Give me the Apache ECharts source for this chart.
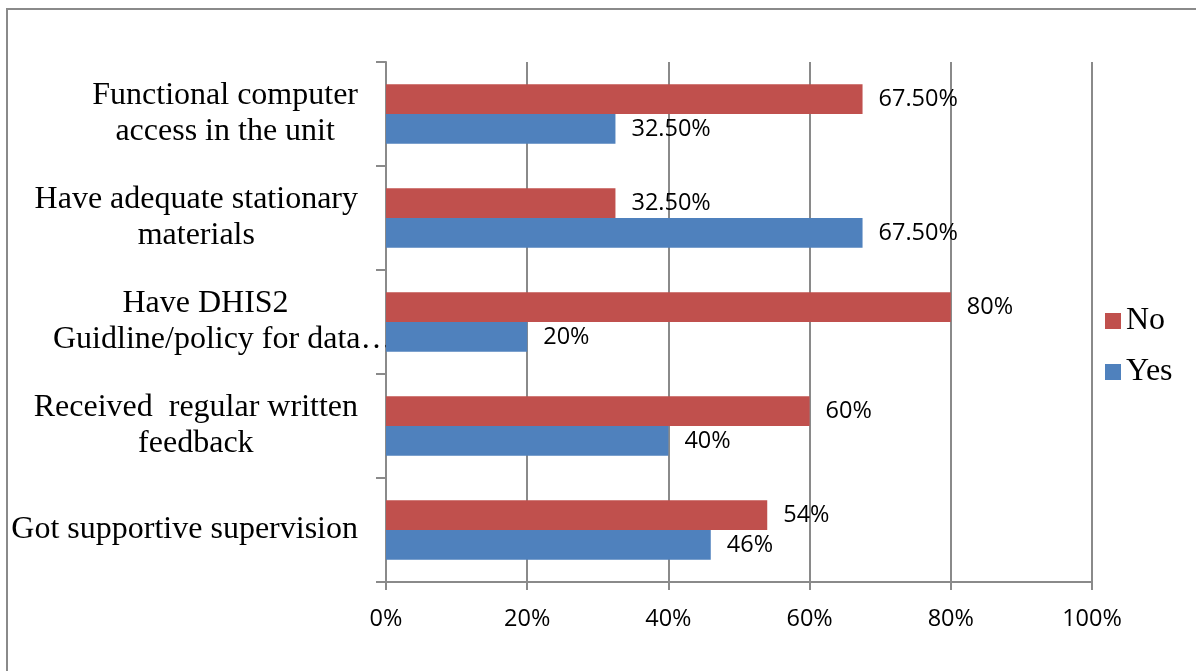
<!DOCTYPE html>
<html>
<head>
<meta charset="utf-8">
<script src="https://cdn.jsdelivr.net/npm/echarts@6/dist/echarts.min.js"></script>
<style>
html,body{margin:0;padding:0;background:#fff;}
#chart{width:1196px;height:671px;}
</style>
</head>
<body>
<div id="chart"></div>
<script>
const categories = [
  'Got supportive supervision',
  'Received  regular written\nfeedback',
  'Have DHIS2\nGuidline/policy for data…',
  'Have adequate stationary\nmaterials',
  'Functional computer\naccess in the unit'
];
const noValues = [54, 60, 80, 32.5, 67.5];
const yesValues = [46, 40, 20, 67.5, 32.5];
const xTicks = [0, 20, 40, 60, 80, 100];

const gray = '#8a8a8a';
const serif = '"Liberation Serif", "Times New Roman", serif';
const sans = '"Open Sans", "Liberation Sans", sans-serif';
function fmt(v) { return (v % 1 === 0 ? v : v.toFixed(2)) + '%'; }

const chart = echarts.init(document.getElementById('chart'));
const catText = { fontFamily: serif, fontSize: 32, lineHeight: 36, color: '#000' };
chart.setOption({
  animation: false,
  backgroundColor: '#fff',
  graphic: [{
    type: 'polyline',
    shape: { points: [[7, 671], [7, 9], [1196, 9]] },
    style: { stroke: gray, lineWidth: 2, fill: null }
  }],
  legend: {
    orient: 'vertical',
    left: 1100,
    top: 300,
    data: ['No', 'Yes'],
    icon: 'rect',
    itemWidth: 16,
    itemHeight: 16,
    itemGap: 19,
    textStyle: { fontFamily: serif, fontSize: 32, lineHeight: 32, color: '#000' }
  },
  grid: { left: 386, right: 104, top: 62, bottom: 89, containLabel: false },
  xAxis: {
    type: 'value',
    min: xTicks[0],
    max: xTicks[xTicks.length - 1],
    interval: 20,
    axisLine: { show: true, lineStyle: { color: gray, width: 2 } },
    axisTick: { show: true, length: 8, lineStyle: { color: gray, width: 2 } },
    splitLine: { show: true, lineStyle: { color: gray, width: 2 } },
    axisLabel: { formatter: '{value}%', fontFamily: sans, fontSize: 23.5, color: '#000', margin: 25 }
  },
  yAxis: {
    type: 'category',
    data: categories,
    axisLine: { show: true, lineStyle: { color: gray, width: 2 } },
    axisTick: { show: true, length: 10, lineStyle: { color: gray, width: 2 } },
    axisLabel: {
      margin: 28,
      align: 'right',
      formatter: function (v) {
        return v.split('\n').map(function (l) {
          return (l.slice(-1) === '…' ? '{e|' : '{c|') + l + '}';
        }).join('\n');
      },
      rich: {
        c: Object.assign({ align: 'center' }, catText),
        e: Object.assign({ align: 'left', width: 305 }, catText)
      }
    }
  },
  series: [
    {
      name: 'No', type: 'bar', data: noValues,
      itemStyle: { color: '#C0504D' },
      barGap: '0%', barCategoryGap: '43%',
      label: { show: true, position: 'right', distance: 16, formatter: function (p) { return fmt(p.value); }, fontFamily: sans, fontSize: 23.5, color: '#000' }
    },
    {
      name: 'Yes', type: 'bar', data: yesValues,
      itemStyle: { color: '#4F81BD' },
      barGap: '0%', barCategoryGap: '43%',
      label: { show: true, position: 'right', distance: 16, formatter: function (p) { return fmt(p.value); }, fontFamily: sans, fontSize: 23.5, color: '#000' }
    }
  ]
});
</script>
</body>
</html>
